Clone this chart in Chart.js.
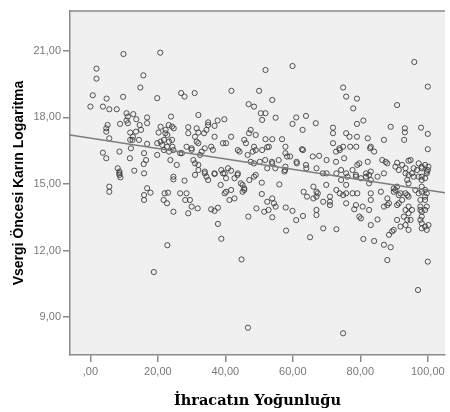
<!DOCTYPE html>
<html>
<head>
<meta charset="utf-8">
<script src="https://cdn.jsdelivr.net/npm/chart.js@4.4.0/dist/chart.umd.min.js"></script>
<style>
  html, body { margin: 0; padding: 0; background: #fff; }
</style>
</head>
<body>
<canvas id="scatterChart" width="450" height="412"></canvas>
<script>
// Axis setup
const xTicks = [0, 20, 40, 60, 80, 100];
const xTickLabels = [',00', '20,00', '40,00', '60,00', '80,00', '100,00'];
const yTicks = [9, 12, 15, 18, 21];
const yTickLabels = ['9,00', '12,00', '15,00', '18,00', '21,00'];
const xRange = [-6.05, 105.1];
const yRange = [7.29, 22.8];
const xTitle = 'İhracatın Yoğunluğu';
const yTitle = 'Vsergi Öncesi Karın Logaritma';

// Fit line (linear regression)
const fitIntercept = 17.07;
const fitSlope = -0.0235;

const xValues = [
  9.8, 20.7, 1.8, 1.8, 15.7, 14.8, 0.7, 4.8, 9.7, 19.8, 26.9, 27.9, 30.9, 41.8, 0.0, 3.7, 5.6, 7.8, 10.7, 12.7, 16.8, 23.9, 32.0, 46.9, 48.5,
  5.1, 4.7, 5.6, 8.8, 10.7, 13.6, 14.6, 16.8, 13.5, 11.8, 11.8, 20.8, 23.2, 24.7, 20.2, 22.2, 24.2, 29.0, 31.5, 29.0, 34.9, 37.7, 39.7, 34.9, 36.8, 32.0,
  12.5, 14.4, 16.8, 19.8, 20.8, 22.7, 24.2, 28.5, 30.0, 32.0, 33.9, 35.8, 31.0, 36.8, 41.7, 44.2, 47.5, 46.1, 48.5, 49.0,
  3.7, 4.7, 8.6, 12.0, 11.7, 15.9, 16.5, 19.8, 23.7, 25.6, 27.1, 31.0, 32.0, 33.9, 36.8, 39.8, 41.7, 43.7, 8.1, 8.6, 13.0, 15.9, 24.6,
  51.9, 59.9, 96.0, 100.0, 50.0, 53.9, 74.9, 75.8, 79.0, 77.9, 90.9, 50.5, 51.9, 50.9, 54.9, 61.0, 59.9, 63.9, 62.9, 66.8, 79.0, 80.9,
  89.0, 93.2, 93.2, 98.0, 100.0, 93.0, 100.0, 71.9, 71.9, 75.8, 76.8, 79.0, 82.2, 87.0, 51.9, 53.9, 56.8, 57.8, 62.7, 52.4,
  49.0, 50.9, 52.9, 57.8, 58.3, 65.9, 67.8, 70.0, 71.9, 74.9, 73.9, 77.0, 78.8, 83.1, 84.1, 86.5, 88.0, 90.9, 94.3, 97.3, 99.2, 100.0,
  48.5, 52.4, 53.9, 55.8, 57.8, 61.2, 63.9, 67.0, 70.0, 72.9, 75.8, 78.7, 81.7, 85.1, 87.0, 91.4, 93.4, 95.3, 98.2, 99.7, 49.0, 57.5,
  8.6, 8.6, 8.9, 5.6, 5.6, 16.8, 15.9, 17.8, 15.9, 22.0, 23.0, 21.7, 22.7, 24.6, 24.6, 27.9, 31.0, 33.9, 34.9, 36.8, 38.6, 39.3, 40.2, 43.6, 45.1, 45.6, 48.5,
  26.6, 28.5, 28.1, 29.5, 30.0, 29.0, 31.8, 35.8, 36.8, 37.8, 37.8, 38.8, 39.8, 40.2, 41.7, 41.2, 42.7, 44.6, 45.1, 45.6, 46.8, 22.8, 18.8, 44.8, 46.7, 49.2, 15.8, 50.8, 50.8, 51.5, 52.4,
  56.0, 53.9, 54.4, 54.9, 53.9, 57.9, 59.9, 61.0, 63.0, 58.0, 65.1, 69.0, 72.9, 63.2, 66.1, 67.0, 66.1, 67.0, 64.2, 71.0, 71.0, 71.0, 69.0, 72.9, 73.9, 75.8, 75.8, 74.9,
  75.8, 78.7, 80.7, 78.2, 80.2, 83.1, 85.1, 80.9, 84.1, 80.2, 82.6, 82.6, 83.1, 83.1, 86.1, 87.0, 88.0, 88.0, 89.9, 90.9, 91.4, 91.9, 92.4, 93.4, 93.4, 94.3, 94.3, 95.3,
  90.9, 93.9, 94.3, 89.9, 89.4, 88.5, 87.0, 89.0, 88.0, 100.0, 97.1, 97.3, 98.2, 99.2, 99.7, 99.2, 99.7, 97.8, 98.2, 98.2, 99.2, 100.2, 97.3, 99.7, 100.2, 98.2, 74.9,
  33.7, 34.4, 31.5, 30.0, 33.0, 32.5, 36.3, 39.3, 40.2, 45.6, 47.5, 47.0, 43.7, 46.6, 48.1, 50.2, 24.6, 26.6, 30.5, 32.0, 34.4, 38.8, 40.8, 42.7, 47.1,
  59.2, 53.8, 51.8, 54.8, 57.7, 61.1, 63.0, 64.0, 68.9, 72.8, 73.8, 75.2, 72.8, 74.3, 76.2, 77.7, 79.1, 52.8, 67.0, 67.0, 67.4, 69.9, 74.3, 77.7, 79.1,
  82.9, 79.7, 82.2, 87.5, 83.1, 81.7, 78.7, 83.1, 90.4, 92.4, 94.9, 95.8, 96.8, 94.3, 95.8, 98.2, 99.2, 93.9, 94.3, 98.2, 93.4,
  90.4, 93.9, 94.3, 98.2, 99.2, 97.8, 96.3, 91.4, 89.9, 79.7, 82.6, 88.5, 90.9, 92.9, 94.9, 93.4, 91.9, 97.8, 98.2, 99.2, 97.8, 98.2, 99.7,
  11.1, 11.1, 15.0, 12.6, 4.7, 22.3, 22.8, 21.8, 23.3, 21.3, 21.8, 23.3, 24.3
];
const yValues = [
  20.86, 20.92, 20.2, 19.75, 19.9, 19.35, 19.0, 18.85, 18.93, 18.87, 19.1, 18.94, 19.1, 19.2, 18.49, 18.49, 18.37, 18.37, 18.19, 18.15, 18.0, 18.04, 18.11, 18.6, 18.49,
  17.66, 17.36, 17.06, 17.71, 17.86, 17.92, 17.66, 17.74, 17.36, 17.32, 16.99, 17.58, 17.66, 17.51, 17.32, 17.29, 17.59, 17.56, 17.51, 17.29, 17.78, 17.86, 17.92, 17.66, 17.62, 17.32,
  16.99, 16.99, 16.81, 16.84, 16.91, 16.68, 16.99, 16.68, 16.61, 16.84, 16.61, 16.68, 17.13, 17.13, 17.13, 16.46, 16.0, 16.84, 16.68, 17.21,
  16.41, 16.16, 16.46, 16.61, 16.16, 16.39, 16.08, 16.31, 16.08, 15.86, 16.39, 15.93, 15.63, 15.56, 15.48, 15.48, 15.6, 15.48, 15.71, 15.48, 15.6, 15.48, 15.33,
  20.14, 20.32, 20.5, 19.39, 19.2, 18.79, 19.35, 18.94, 18.85, 18.41, 18.56, 18.19, 18.19, 17.89, 17.99, 18.0, 17.71, 18.07, 17.44, 17.74, 17.71, 17.86,
  17.58, 17.51, 17.33, 17.54, 17.26, 16.99, 16.57, 17.54, 17.29, 17.29, 17.13, 17.13, 17.06, 16.99, 17.02, 17.02, 17.02, 16.68, 16.57, 16.66,
  16.53, 16.53, 16.68, 16.39, 16.24, 16.24, 16.27, 16.08, 16.84, 16.68, 16.53, 16.68, 16.68, 16.68, 16.46, 16.08, 15.93, 15.96, 16.05, 15.93, 15.86, 15.63,
  15.93, 15.71, 15.93, 16.08, 15.78, 15.93, 15.86, 15.71, 15.48, 15.48, 15.48, 15.41, 15.48, 15.33, 15.48, 15.63, 15.48, 15.48, 15.71, 15.48, 15.41, 15.56,
  15.56, 15.41, 15.3, 14.88, 14.65, 14.81, 14.5, 14.61, 14.28, 14.58, 14.61, 14.28, 14.13, 13.75, 15.21, 15.15, 15.41, 15.48, 15.18, 15.45, 14.96, 15.48, 15.26, 15.41, 14.96, 14.73, 15.33,
  14.58, 14.58, 14.28, 14.28, 13.98, 13.68, 13.9, 13.86, 13.79, 13.93, 13.2, 12.53, 14.58, 14.65, 14.73, 14.28, 14.35, 15.03, 14.65, 14.8, 13.53, 12.24, 11.03, 11.6, 8.52, 13.9, 15.9, 15.06, 14.55, 13.75, 14.2,
  14.98, 14.35, 14.13, 13.98, 13.5, 13.94, 13.79, 13.37, 13.56, 12.9, 12.6, 13.0, 12.96, 14.65, 14.88, 14.65, 14.35, 14.43, 14.43, 14.43, 14.2, 14.05, 14.2, 14.73, 14.58, 14.96, 14.58, 14.5,
  14.13, 14.05, 13.98, 13.86, 13.45, 13.15, 13.4, 12.52, 12.43, 15.26, 15.41, 15.03, 14.58, 14.28, 14.65, 13.98, 14.35, 14.05, 14.8, 14.88, 14.13, 14.58, 14.28, 14.58, 13.83, 13.98, 13.68, 13.83,
  13.38, 13.38, 12.93, 12.93, 12.86, 12.71, 12.26, 12.15, 11.57, 11.5, 10.22, 14.58, 14.65, 14.73, 14.58, 14.28, 13.98, 13.83, 13.53, 13.23, 13.08, 13.15, 15.33, 15.56, 15.78, 15.78, 8.27,
  17.29, 17.44, 16.91, 16.54, 16.46, 16.31, 16.54, 16.84, 16.84, 16.99, 17.44, 17.29, 16.53, 16.31, 16.46, 16.0, 16.53, 16.39, 16.08, 15.86, 15.33, 15.63, 15.71, 15.26, 15.18,
  16.24, 16.0, 16.08, 15.71, 15.63, 16.0, 16.53, 15.71, 15.48, 16.46, 16.61, 16.16, 16.0, 15.63, 15.33, 15.63, 15.86, 13.83, 13.83, 13.6, 14.58, 14.96, 15.18, 14.58, 14.58,
  16.61, 15.93, 16.0, 16.0, 15.56, 15.33, 15.33, 15.18, 15.78, 15.86, 16.08, 15.71, 15.63, 15.41, 15.33, 15.33, 15.26, 15.18, 15.03, 15.18, 15.71,
  14.73, 14.5, 14.43, 14.88, 14.43, 14.28, 14.73, 14.5, 14.65, 13.53, 13.83, 14.13, 14.05, 13.53, 13.38, 13.15, 13.08, 13.98, 13.75, 13.83, 13.38, 13.0, 12.93,
  18.04, 17.74, 17.44, 17.13, 17.51, 17.44, 17.21, 16.99, 16.91, 16.76, 16.53, 16.46, 16.68
];

const points = xValues.map((x, i) => ({ x: x, y: yValues[i] }));
const fitLine = xRange.map(x => ({ x: x, y: fitIntercept + fitSlope * x }));

// Grey plot background plus the top edge of the frame
const plotFrame = {
  id: 'plotFrame',
  beforeDraw(chart) {
    const { ctx, chartArea: a } = chart;
    ctx.save();
    ctx.fillStyle = '#f0f0f0';
    ctx.fillRect(a.left, a.top, a.right - a.left, a.bottom - a.top);
    ctx.restore();
  },
  afterDraw(chart) {
    const { ctx, chartArea: a } = chart;
    ctx.save();
    ctx.strokeStyle = '#8a8a8a';
    ctx.lineWidth = 1.5;
    ctx.beginPath();
    ctx.moveTo(a.left, a.top);
    ctx.lineTo(a.right, a.top);
    ctx.stroke();
    ctx.restore();
  }
};

const tickFont = { family: '"Liberation Sans", Arial, sans-serif', size: 11 };

new Chart(document.getElementById('scatterChart').getContext('2d'), {
  type: 'scatter',
  data: {
    datasets: [
      {
        data: points,
        pointRadius: 2.6,
        pointBorderWidth: 1,
        pointBorderColor: 'rgba(55,55,55,0.85)',
        pointBackgroundColor: 'rgba(0,0,0,0)',
        order: 2
      },
      {
        type: 'line',
        data: fitLine,
        borderColor: '#7d7d7d',
        borderWidth: 1.5,
        pointRadius: 0,
        fill: false,
        order: 1
      }
    ]
  },
  options: {
    responsive: false,
    devicePixelRatio: 1,
    animation: false,
    layout: { padding: { top: 11, right: 0, bottom: 0, left: 0 } },
    plugins: {
      legend: { display: false },
      tooltip: { enabled: false }
    },
    scales: {
      x: {
        type: 'linear',
        min: xRange[0],
        max: xRange[1],
        afterBuildTicks: s => { s.ticks = xTicks.map(v => ({ value: v })); },
        afterFit: s => { s.height = 57; },
        ticks: {
          callback: v => xTickLabels[xTicks.indexOf(v)],
          color: '#7a7a7a',
          font: tickFont,
          padding: 3,
          maxRotation: 0,
          autoSkip: false
        },
        grid: { drawOnChartArea: false, drawTicks: true, tickLength: 7, color: '#8a8a8a', lineWidth: 1.5 },
        border: { display: true, color: '#8a8a8a', width: 1.5 },
        title: {
          display: true,
          text: xTitle,
          color: '#000',
          font: { family: '"DejaVu Serif", serif', weight: 'bold', size: 14.5 },
          padding: { top: 0, bottom: 2 }
        }
      },
      y: {
        type: 'linear',
        min: yRange[0],
        max: yRange[1],
        afterBuildTicks: s => { s.ticks = yTicks.map(v => ({ value: v })); },
        afterFit: s => { s.width = 70; },
        ticks: {
          callback: v => yTickLabels[yTicks.indexOf(v)],
          color: '#7a7a7a',
          font: tickFont,
          padding: 2
        },
        grid: { drawOnChartArea: false, drawTicks: true, tickLength: 7, color: '#8a8a8a', lineWidth: 1.5 },
        border: { display: true, color: '#8a8a8a', width: 1.5 },
        title: {
          display: true,
          text: yTitle,
          color: '#000',
          font: { family: '"Liberation Sans", Arial, sans-serif', weight: 'bold', size: 14 },
          padding: { top: 11, bottom: 0 }
        }
      }
    }
  },
  plugins: [plotFrame]
});
</script>
</body>
</html>
